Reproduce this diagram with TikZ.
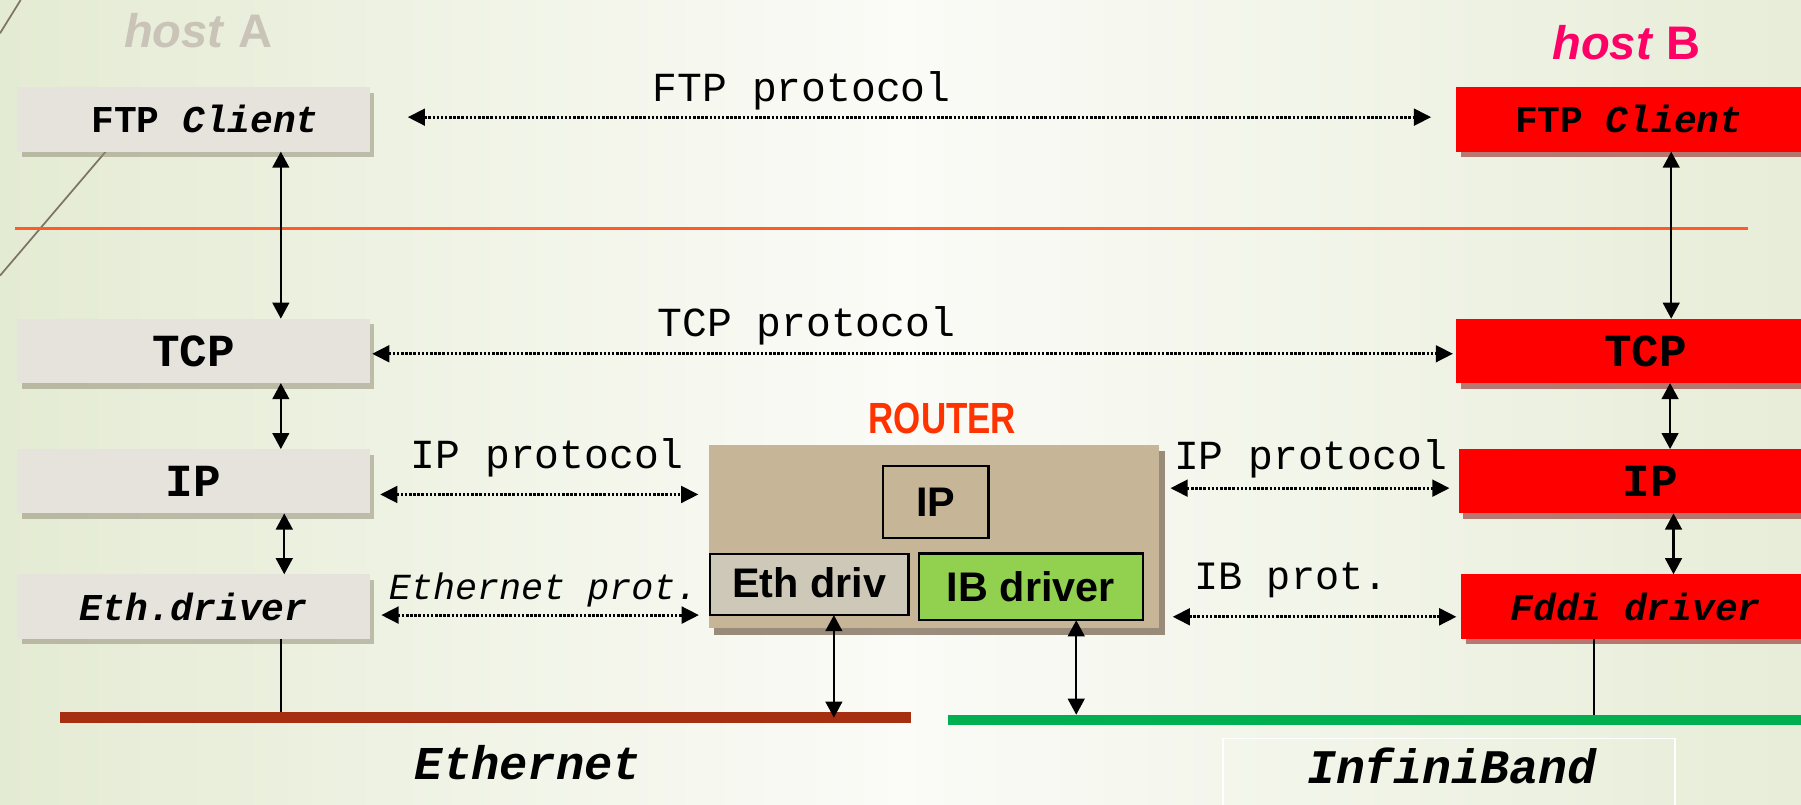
\documentclass[tikz,border=0pt]{standalone}
\usepackage{fontspec}
\setmainfont{Liberation Sans}
\newfontfamily\cour{Liberation Mono}
\usetikzlibrary{shadows,arrows.meta,calc}
\definecolor{bgL}{HTML}{E4EBD3}
\definecolor{bgM}{HTML}{FBFBF7}
\definecolor{bgR}{HTML}{E7EDD8}
\definecolor{boxgray}{HTML}{E6E3DC}
\definecolor{hostgray}{HTML}{C9C4B7}
\definecolor{hostpink}{HTML}{FF0066}
\definecolor{routerred}{HTML}{FF3300}
\definecolor{routerfill}{HTML}{C6B597}
\definecolor{ethfill}{HTML}{CEC8B8}
\definecolor{ibfill}{HTML}{92D050}
\definecolor{sepcol}{HTML}{FF5A28}
\definecolor{ethbarcol}{HTML}{A52F10}
\definecolor{ibbarcol}{HTML}{00B050}
\definecolor{decorcol}{HTML}{7D7466}
\definecolor{shadgray}{HTML}{8E8772}
\begin{document}
\begin{tikzpicture}[x=1pt,y=-1pt,
  every node/.style={inner sep=0pt, outer sep=0pt},
  boxA/.style={fill=boxgray, minimum width=307pt, minimum height=56pt,
    drop shadow={shadow xshift=4pt, shadow yshift=-5pt, fill=shadgray, opacity=0.5}},
  boxB/.style={fill=red, minimum height=56pt,
    drop shadow={shadow xshift=4pt, shadow yshift=-5pt, fill=red!50!black, opacity=0.5}},
  ftpfont/.style={font=\cour\bfseries\fontsize{33}{36}\selectfont},
  bigfont/.style={font=\cour\bfseries\fontsize{40}{44}\selectfont},
  drvfont/.style={font=\cour\bfseries\itshape\fontsize{33}{36}\selectfont},
  proto/.style={font=\cour\fontsize{36}{40}\selectfont, anchor=base},
  hostlabel/.style={font=\bfseries\fontsize{41}{45}\selectfont, anchor=base},
  inner/.style={draw=black, line width=2pt, font=\bfseries\fontsize{36}{40}\selectfont},
  dotarrow/.style={line width=2.6pt, dash pattern=on 2.2pt off 1.4pt,
    {Triangle[length=15pt,width=14.5pt]}-{Triangle[length=15pt,width=14.5pt]}},
  varrow/.style={line width=2.1pt,
    {Triangle[length=14pt,width=14.5pt]}-{Triangle[length=14pt,width=14.5pt]}},
  plainline/.style={line width=1.8pt},
  netlabel/.style={font=\cour\bfseries\itshape\fontsize{41}{45}\selectfont, anchor=base}
]
\useasboundingbox (0,0) rectangle (1568,700);
\shade[left color=bgL, right color=bgR, middle color=bgM] (0,0) rectangle (1568,700);
% decoration
\draw[decorcol, line width=1.5pt] (18,0) -- (0,29);
\draw[decorcol, line width=1.5pt] (92,132) -- (0,240);
% separator
\coordinate (sepL) at (13,199);
\coordinate (sepR) at (1522,199);
\draw[sepcol, line width=2.2pt] (sepL) -- (sepR);
% host labels
\node[hostlabel, text=hostgray] (hostA) at (172.5,41) {\textit{host} A};
\node[hostlabel, text=hostpink] (hostB) at (1416,52) {\textit{host} B};
% host A stack
\node[boxA, ftpfont] (ftpA) at (168.5,104) {\hspace*{20pt}FTP \textit{Client}};
\node[boxA, bigfont] (tcpA) at (168.5,305.5) {TCP};
\node[boxA, bigfont] (ipA) at (168.5,419) {IP};
\node[boxA, drvfont] (ethA) at (168.5,528) {Eth.driver};
% host B stack
\node[boxB, ftpfont, minimum width=300pt] (ftpB) at (1418,104) {FTP \textit{Client}};
\node[boxB, bigfont, minimum width=300pt] (tcpB) at (1418,305.5) {\hspace*{29pt}TCP};
\node[boxB, bigfont, minimum width=298pt] (ipB) at (1419,419) {\hspace*{36pt}IP};
\node[boxB, drvfont, minimum width=296pt] (fddiB) at (1420,528) {\hspace*{8pt}Fddi driver};
% router
\node[font=\bfseries\fontsize{38}{42}\selectfont, text=routerred, anchor=base] (rlabel) at (820.5,377) {\scalebox{0.8}[1]{ROUTER}};
\node[fill=routerfill, minimum width=392pt, minimum height=160pt,
  drop shadow={shadow xshift=5pt, shadow yshift=-6pt, fill=black!60!brown, opacity=0.55}] (router) at (813,467) {};
\node[inner, minimum width=92pt, minimum height=63pt] (rIP) at (814.5,437) {IP};
\node[inner, fill=ethfill, minimum width=173pt, minimum height=53pt] (rEth) at (704.5,509) {\raisebox{4pt}{Eth driv}};
\node[inner, fill=ibfill, minimum width=195pt, minimum height=58pt] (rIB) at (897.5,511) {IB driver};
% networks
\node[fill=ethbarcol, minimum width=741pt, minimum height=9pt] (ethbar) at (423,624.8) {};
\node[fill=ibbarcol, minimum width=743pt, minimum height=9pt] (ibbar) at (1196.5,626.8) {};
\node[netlabel] (lether) at (459.5,679) {Ethernet};
\draw[white, line width=1.5pt] (1065,720) -- (1065,643) -- (1458,643) -- (1458,720);
\node[netlabel, font=\cour\bfseries\itshape\fontsize{42}{46}\selectfont] (lib) at (1264,682) {InfiniBand};
% protocol labels
\node[proto] (lftp) at (698,88.5) {FTP protocol};
\node[proto] (ltcp) at (702,293) {TCP protocol};
\node[proto] (lipL) at (476.5,408) {IP protocol};
\node[proto] (lipR) at (1141,409) {IP protocol};
\node[proto, font=\cour\itshape\fontsize{32}{36}\selectfont] (lethp) at (473,522) {Ethernet prot.};
\node[proto, font=\cour\fontsize{35}{39}\selectfont] (libp) at (1124,513.5) {IB prot.};
% horizontal protocol arrows
\draw[dotarrow, shorten <=33pt, shorten >=22pt] ($(ftpA.east)+(0,-2)$) -- ($(ftpB.west)+(0,-2)$);
\draw[dotarrow, shorten <=2pt, shorten >=3pt] ($(tcpA.east)+(0,2.5)$) -- ($(tcpB.west)+(0,2.5)$);
\coordinate (p1) at ($(ipA.east)+(0,11.5)$);
\draw[dotarrow, shorten <=9pt, shorten >=9pt] (p1) -- (p1 -| router.west);
\coordinate (p2) at ($(ethA.east)+(0,7.5)$);
\draw[dotarrow, shorten <=10pt, shorten >=8.5pt] (p2) -- (p2 -| router.west);
\coordinate (p3) at ($(ipB.west)+(0,6)$);
\draw[dotarrow, shorten <=10pt, shorten >=8pt] (p3 -| router.east) -- (p3);
\coordinate (p4) at ($(fddiB.west)+(0,9)$);
\draw[dotarrow, shorten <=12pt, shorten >=4pt] (p4 -| router.east) -- (p4);
% vertical arrows host A
\coordinate (a1) at ($(ftpA.south)+(76,0)$);
\draw[varrow] (a1) -- (a1 |- tcpA.north);
\coordinate (a2) at ($(tcpA.south)+(76,0)$);
\draw[varrow] (a2) -- (a2 |- ipA.north);
\coordinate (a3) at ($(ipA.south)+(79,0)$);
\draw[varrow] (a3) -- (a3 |- ethA.north);
\coordinate (a4) at ($(ethA.south)+(76,0)$);
\draw[plainline] (a4) -- (a4 |- ethbar.north);
% vertical arrows host B
\coordinate (b1) at ($(ftpB.south)+(37,0)$);
\draw[varrow] (b1) -- (b1 |- tcpB.north);
\coordinate (b2) at ($(tcpB.south)+(36,0)$);
\draw[varrow] (b2) -- (b2 |- ipB.north);
\coordinate (b3) at ($(ipB.south)+(38,0)$);
\draw[varrow] (b3) -- (b3 |- fddiB.north);
\coordinate (b4) at ($(fddiB.south)+(-32,0)$);
\draw[plainline] (b4) -- (b4 |- ibbar.north);
% router to networks
\coordinate (r1) at ($(rEth.south)+(21.5,0)$);
\draw[varrow] (r1) -- (r1 |- ethbar.center);
\coordinate (r2) at ($(rIB.south)+(39.5,0)$);
\draw[varrow] (r2) -- (r2 |- ibbar.north);
\end{tikzpicture}
\end{document}
